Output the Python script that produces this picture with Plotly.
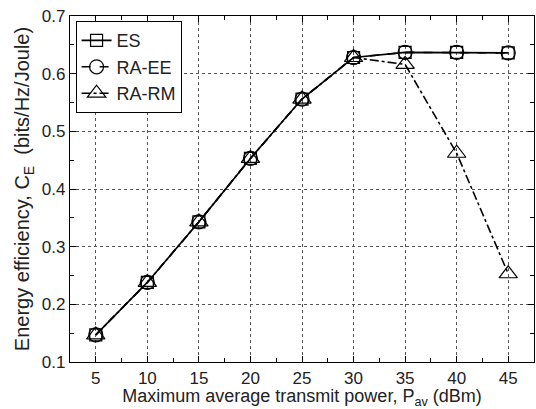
import plotly.graph_objects as go

# Maximum average transmit power (dBm)
power_dbm = [5, 10, 15, 20, 25, 30, 35, 40, 45]

# Energy efficiency (bits/Hz/Joule) for each scheme
ee_es = [0.147, 0.238, 0.343, 0.453, 0.556, 0.628, 0.637, 0.637, 0.636]
ee_ra_ee = [0.147, 0.238, 0.343, 0.453, 0.556, 0.628, 0.637, 0.637, 0.636]
ee_ra_rm = [0.147, 0.238, 0.343, 0.453, 0.556, 0.628, 0.616, 0.462, 0.253]

x_ticks = [5, 10, 15, 20, 25, 30, 35, 40, 45]
y_ticks = [0.1, 0.2, 0.3, 0.4, 0.5, 0.6, 0.7]

font_family = "Liberation Sans, Arial, sans-serif"

fig = go.Figure()

series = [
    ("ES", ee_es, "solid", "square-open", 12),
    ("RA-EE", ee_ra_ee, "dash", "circle-open", 14),
    ("RA-RM", ee_ra_rm, "dashdot", "triangle-up-open", 16),
]
for name, vals, dash, symbol, size in series:
    fig.add_trace(go.Scatter(
        x=power_dbm, y=vals, name=name, mode="lines+markers",
        line=dict(color="black", width=1.6, dash=dash),
        marker=dict(symbol=symbol, size=size, color="black",
                    line=dict(color="black", width=1.2)),
    ))

axis_common = dict(
    showline=True, linecolor="black", linewidth=1.2, mirror="allticks",
    ticks="inside", ticklen=6, tickcolor="black", tickwidth=1,
    showgrid=True, gridcolor="#555555", gridwidth=0.8, griddash="dot",
    zeroline=False,
    tickfont=dict(family=font_family, size=17, color="#222222"),
)

fig.update_xaxes(
    range=[2.5, 47.5], tickvals=x_ticks,
    minor=dict(ticks="inside", dtick=2.5, tick0=2.5, ticklen=4, tickcolor="black", showgrid=False),
    title=dict(text="Maximum average transmit power, P<sub>av</sub> (dBm)",
               font=dict(family=font_family, size=18, color="#222222"), standoff=0),
    **axis_common,
)
fig.update_yaxes(
    range=[0.1, 0.7], tickvals=y_ticks, tickformat=".1f",
    minor=dict(ticks="inside", dtick=0.05, tick0=0.1, ticklen=4, tickcolor="black", showgrid=False),
    title=dict(text="Energy efficiency, C<sub>E</sub>  (bits/Hz/Joule)",
               font=dict(family=font_family, size=20, color="#222222"), standoff=6),
    **axis_common,
)

fig.update_layout(
    width=536, height=409,
    margin=dict(l=70, r=2, t=16, b=47),
    paper_bgcolor="white", plot_bgcolor="white",
    font=dict(family=font_family, color="#222222"),
    legend=dict(
        x=0.012, y=0.985, xanchor="left", yanchor="top",
        bgcolor="white", bordercolor="black", borderwidth=1,
        font=dict(family=font_family, size=18, color="#222222"),
        tracegroupgap=0, itemwidth=30,
    ),
)

fig.write_html("out.html")
